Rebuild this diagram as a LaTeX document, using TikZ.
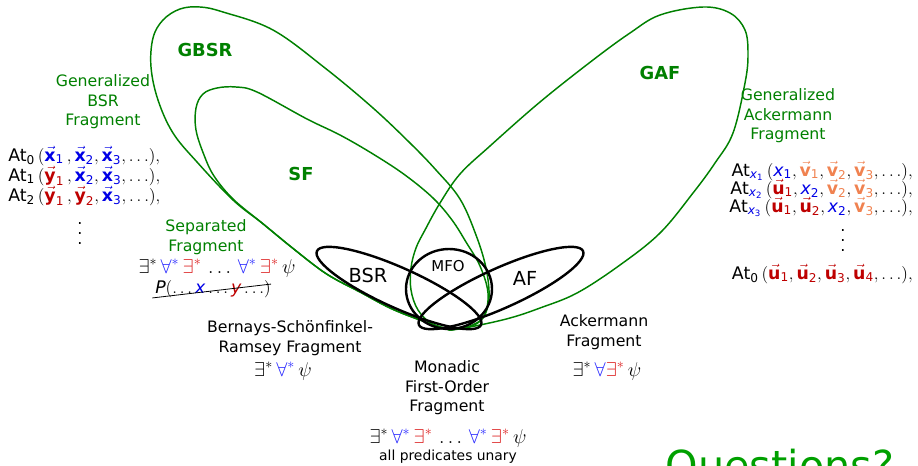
\RequirePackage{fix-cm}
\documentclass[tikz,border=0pt]{standalone}
\usepackage{amsmath}
\usepackage[no-math]{fontspec}
\setmainfont{DejaVu Sans}
\usepackage{xcolor}
\usepackage{tikz}
\usetikzlibrary{calc}
\definecolor{gdark}{RGB}{0,128,0}
\definecolor{gbright}{RGB}{0,160,0}
\definecolor{vblue}{RGB}{0,0,230}
\definecolor{vred}{RGB}{190,0,0}
\definecolor{vorange}{RGB}{240,130,80}
\definecolor{fblue}{RGB}{40,40,255}
\definecolor{fred}{RGB}{220,30,30}
\newcommand{\vb}[3]{\textcolor{#1}{\vec{\textbf{#2}}_{\text{#3}}}}
\newcommand{\vi}[2]{\textcolor{vblue}{\textit{#1}_{\text{#2}}}}
\newcommand{\At}[1]{\text{At}_{#1}}
\tikzset{
  glabel/.style={align=center, text=gdark, font=\fontsize{11.8}{14.6}\selectfont},
  flabel/.style={align=center, font=\fontsize{11.8}{14.6}\selectfont},
  biglbl/.style={text=gdark, font=\fontsize{13.4}{16}\selectfont\bfseries},
  shplbl/.style={font=\fontsize{14.5}{17}\selectfont},
  atline/.style={font=\fontsize{13}{15}\selectfont, inner sep=0pt},
  frm/.style={font=\fontsize{15}{17}\selectfont, inner sep=0pt},
  gloop/.style={draw=gdark, line width=1.1pt},
  bloop/.style={draw=black, line width=1.8pt}
}

\begin{document}
\begin{tikzpicture}[x=0.75pt, y=-0.75pt]
  \useasboundingbox (0,0) rectangle (918,465);
  \clip (0,0) rectangle (918,465);

  \draw[gloop] plot[smooth, tension=0.6] coordinates {(450,330) (420,320) (390,308) (360,292) (335,279)
    (318,268) (290,246) (262,223) (233,200) (197,162) (173,133) (158,100) (151,67) (153,38) (163,20)
    (180,9) (200,7) (223,12) (273,30) (325,68) (373,108) (410,143) (436,170) (460,199) (476,235)
    (486,268) (489,298) (483,318) (469,327) (450,330)};
  \draw[gloop] plot[smooth, tension=0.6] coordinates {(450,330) (420,320) (390,308) (360,292) (335,279)
    (318,268) (290,246) (262,223) (233,199) (214,176) (204,155) (196,130) (196,108) (203,94) (217,88)
    (236,87) (257,92) (307,119) (340,135) (373,154) (405,175) (433,198) (452,220) (466,242) (480,266)
    (488,293) (484,316) (470,326) (450,330)};
  \draw[gloop] plot[smooth, tension=0.6] coordinates {(450,330) (432,324) (418,310) (411,290) (411,268)
    (416,248) (425,230) (440,203) (460,174) (490,146) (540,102) (593,60) (630,33) (660,15) (703,7)
    (730,13) (745,30) (748,55) (745,83) (733,133) (715,163) (693,193) (660,233) (620,265) (577,293)
    (540,308) (510,318) (475,326) (450,330)};

  \draw[bloop, rotate around={-24.2:(399,288)}] (399,288) ellipse [x radius=67.5pt, y radius=15pt];
  \draw[bloop, rotate around={24.2:(501,288)}] (501,288) ellipse [x radius=67.5pt, y radius=15pt];
  \draw[bloop] (449,289) ellipse [x radius=32.25pt, y radius=30pt];

  \node[biglbl] (gbsrlbl) at (205,50) {GBSR};
  \node[biglbl] (sflbl) at (301,174) {SF};
  \node[biglbl] (gaflbl) at (660,73) {GAF};
  \node[shplbl] (bsrlbl) at (368,275) {BSR};
  \node[shplbl] (aflbl) at (525,278) {AF};
  \node[font=\fontsize{11.2}{13}\selectfont] (mfolbl) at (448,266) {MFO};

  \node[glabel] (genbsr) at (103,102) {Generalized\\BSR\\Fragment};
  \node[glabel] (sepfrag) at (206,237) {Separated\\Fragment};
  \node[glabel] (genack) at (788,116) {Generalized\\Ackermann\\Fragment};

  \node[atline, anchor=base west] (at0) at (8,161)
    {$\At{\text{0}}\,(\vb{vblue}{x}{1}\,, \vb{vblue}{x}{2}, \vb{vblue}{x}{3}, \ldots),$};
  \node[atline, anchor=base west] (at1) at (8,181)
    {$\At{\text{1}}\,(\vb{vred}{y}{1}\,, \vb{vblue}{x}{2}, \vb{vblue}{x}{3}, \ldots),$};
  \node[atline, anchor=base west] (at2) at (8,201)
    {$\At{\text{2}}\,(\vb{vred}{y}{1}\,, \vb{vred}{y}{2}, \vb{vblue}{x}{3}, \ldots),$};
  \node[atline, align=center, font=\fontsize{12}{7.5}\selectfont] (ldots) at (80,234) {.\\.\\.};

  \node[atline, anchor=base east] (ax1) at (913,176)
    {$\At{\vi{x}{1}}\,(\vi{x}{1}, \vb{vorange}{v}{1}, \vb{vorange}{v}{2}, \vb{vorange}{v}{3}, \ldots),$};
  \node[atline, anchor=base east] (ax2) at (913,194)
    {$\At{\vi{x}{2}}\,(\vb{vred}{u}{1}, \vi{x}{2}, \vb{vorange}{v}{2}, \vb{vorange}{v}{3}, \ldots),$};
  \node[atline, anchor=base east] (ax3) at (913,212)
    {$\At{\vi{x}{3}}\,(\vb{vred}{u}{1}, \vb{vred}{u}{2}, \vi{x}{2}, \vb{vorange}{v}{3}, \ldots),$};
  \node[atline, align=center, font=\fontsize{12}{7.5}\selectfont] (rdots) at (843,241) {.\\.\\.};
  \node[atline, anchor=base east] (au0) at (913,279)
    {$\At{\text{0}}\,(\vb{vred}{u}{1}, \vb{vred}{u}{2}, \vb{vred}{u}{3}, \vb{vred}{u}{4}, \ldots),$};

  \node[frm] (sepform) at (217,268)
    {$\exists^*\,\textcolor{fblue}{\forall^*}\,\textcolor{fred}{\exists^*}\,\ldots\,\textcolor{fblue}{\forall^*}\,\textcolor{fred}{\exists^*}\,\psi$};
  \node[atline] (sepatom) at (213,289)
    {$\textit{P}(\ldots\textcolor{vblue}{\textit{x}}\ldots\textcolor{vred}{\textit{y}}\ldots)$};
  \draw[line width=0.6pt] ([xshift=-2]sepatom.south west) -- ([yshift=-3]sepatom.north east);

  \node[flabel] (bsrfrag) at (290,338) {Bernays-Schönfinkel-\\Ramsey Fragment};
  \node[frm] (bsrform) at (283,371) {$\exists^*\,\textcolor{fblue}{\forall^*}\,\psi$};
  \node[flabel] (mfofrag) at (447,388) {Monadic\\First-Order\\Fragment};
  \node[frm] (mfoform) at (448,438)
    {$\exists^*\,\textcolor{fblue}{\forall^*}\,\textcolor{fred}{\exists^*}\,\ldots\,\textcolor{fblue}{\forall^*}\,\textcolor{fred}{\exists^*}\,\psi$};
  \node[font=\fontsize{10.4}{12}\selectfont, inner sep=0pt] (mfonote) at (448,457) {all predicates unary};
  \node[flabel] (ackfrag) at (604,332) {Ackermann\\Fragment};
  \node[frm] (ackform) at (607,371) {$\exists^*\,\textcolor{fblue}{\forall}\textcolor{fred}{\exists^*}\,\psi$};

  \node[text=gbright, font=\fontsize{31}{36}\selectfont, anchor=base] (questions) at (780,480) {Questions?};
\end{tikzpicture}
\end{document}
